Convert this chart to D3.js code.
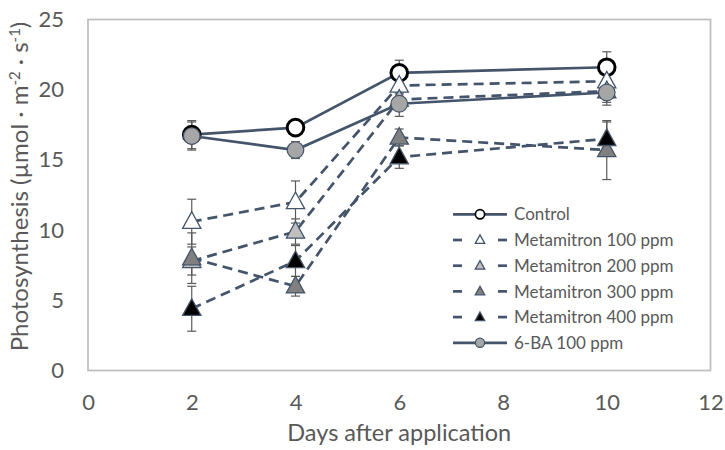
<!DOCTYPE html>
<html>
<head>
<meta charset="utf-8">
<script src="https://cdn.jsdelivr.net/npm/d3@7"></script>
<style>
  body { margin: 0; background: #fff; }
  text { font-family: Lato, 'Open Sans', sans-serif; fill: #595959; }
</style>
</head>
<body>
<div class="chart"></div>
<script>
const days = [2, 4, 6, 10]
const seriesNames = ['Control', 'Metamitron 100 ppm', 'Metamitron 200 ppm', 'Metamitron 300 ppm', 'Metamitron 400 ppm', '6-BA 100 ppm']
const control = [16.8, 17.3, 21.2, 21.6]
const meta100 = [10.6, 12.0, 20.3, 20.6]
const meta200 = [7.8, 9.9, 19.3, 19.9]
const meta300 = [8.0, 6.0, 16.6, 15.7]
const meta400 = [4.4, 7.8, 15.2, 16.5]
const ba100 = [16.7, 15.7, 19.0, 19.8]
const controlErr = [1.0, 0.3, 0.9, 1.1]
const meta100Err = [1.6, 1.5, 0.6, 0.5]
const meta200Err = [1.0, 0.9, 0.5, 0.8]
const meta300Err = [1.8, 0.7, 0.6, 2.1]
const meta400Err = [1.6, 1.1, 0.8, 1.2]
const ba100Err = [1.0, 0.6, 0.9, 0.9]
const xTicks = [0, 2, 4, 6, 8, 10, 12]
const yTicks = [0, 5, 10, 15, 20, 25]

const lineColor = '#44546a'
const series = [
  { name: seriesNames[0], values: control, err: controlErr, shape: 'circle', fill: '#fff', stroke: '#000', dashed: false },
  { name: seriesNames[1], values: meta100, err: meta100Err, shape: 'tri', fill: '#fff', stroke: lineColor, dashed: true },
  { name: seriesNames[2], values: meta200, err: meta200Err, shape: 'tri', fill: '#bfbfbf', stroke: lineColor, dashed: true },
  { name: seriesNames[3], values: meta300, err: meta300Err, shape: 'tri', fill: '#808080', stroke: lineColor, dashed: true },
  { name: seriesNames[4], values: meta400, err: meta400Err, shape: 'tri', fill: '#000', stroke: lineColor, dashed: true },
  { name: seriesNames[5], values: ba100, err: ba100Err, shape: 'circle', fill: '#a6a6a6', stroke: lineColor, dashed: false }
]

const margin = { top: 19.5, right: 14.5, bottom: 79.5, left: 88 }
const width = 725 - margin.left - margin.right
const height = 450 - margin.top - margin.bottom

const svg = d3.select('.chart').append('svg').attr('width', 725).attr('height', 450)
const g = svg.append('g').attr('transform', `translate(${margin.left}, ${margin.top})`)

const x = d3.scaleLinear().domain([0, 12]).range([0, width])
const y = d3.scaleLinear().domain([0, 25]).range([height, 0])

// plot frame
g.append('rect').attr('width', width).attr('height', height)
  .attr('fill', 'none').attr('stroke', '#c0c0c0').attr('stroke-width', 1.8)

// tick labels
const xAxis = d3.axisBottom(x).tickValues(xTicks).tickSize(0).tickPadding(24)
g.append('g').attr('transform', `translate(0, ${height})`).call(xAxis)
  .call(a => a.select('.domain').remove())
  .selectAll('text').style('font-size', '22px').attr('fill', '#595959')

const yAxis = d3.axisLeft(y).tickValues(yTicks).tickSize(0).tickPadding(24)
g.append('g').call(yAxis)
  .call(a => a.select('.domain').remove())
  .selectAll('text').style('font-size', '22px').attr('fill', '#595959')

// axis titles
svg.append('text').attr('x', margin.left + width / 2).attr('y', 441)
  .attr('text-anchor', 'middle').style('font-size', '23.5px').text('Days after application')

const yt = svg.append('text').attr('transform', 'translate(28, 186.5) rotate(-90)')
  .attr('text-anchor', 'middle').style('font-size', '24px')
yt.append('tspan').text('Photosynthesis (µmol · m')
yt.append('tspan').attr('dy', -8).style('font-size', '15px').text('-2')
yt.append('tspan').attr('dy', 8).text(' · s')
yt.append('tspan').attr('dy', -8).style('font-size', '15px').text('-1')
yt.append('tspan').attr('dy', 8).text(')')

function drawMarker(sel, s, cx, cy, size) {
  if (s.shape === 'circle') {
    sel.append('circle').attr('cx', cx).attr('cy', cy).attr('r', size)
      .attr('fill', s.fill).attr('stroke', s.stroke)
      .attr('stroke-width', s.name === 'Control' ? size * 0.36 : 1.2)
  } else {
    const h = size * 2
    const w = size * 1.1
    sel.append('path')
      .attr('d', `M${cx},${cy - h * 0.6}L${cx + w},${cy + h * 0.4}L${cx - w},${cy + h * 0.4}Z`)
      .attr('fill', s.fill).attr('stroke', s.stroke).attr('stroke-width', 1.3)
  }
}

// error bars
const eb = g.append('g').attr('stroke', '#595959').attr('stroke-width', 1.2)
series.forEach(s => {
  days.forEach((d, i) => {
    const cx = x(d)
    const y0 = y(s.values[i] - s.err[i])
    const y1 = y(s.values[i] + s.err[i])
    eb.append('line').attr('x1', cx).attr('x2', cx).attr('y1', y0).attr('y2', y1)
    eb.append('line').attr('x1', cx - 4.5).attr('x2', cx + 4.5).attr('y1', y0).attr('y2', y0)
    eb.append('line').attr('x1', cx - 4.5).attr('x2', cx + 4.5).attr('y1', y1).attr('y2', y1)
  })
})

const line = d3.line().x(d => x(d[0])).y(d => y(d[1]))

series.forEach(s => {
  const pts = days.map((d, i) => [d, s.values[i]])
  g.append('path').datum(pts).attr('d', line)
    .attr('fill', 'none').attr('stroke', lineColor).attr('stroke-width', 2.7)
    .attr('stroke-dasharray', s.dashed ? '10,6' : null)
  const mg = g.append('g')
  pts.forEach(p => drawMarker(mg, s, x(p[0]), y(p[1]), 8.3))
})

// legend
const legend = svg.append('g').attr('transform', 'translate(453, 214.3)')
series.forEach((s, i) => {
  const row = legend.append('g').attr('transform', `translate(0, ${i * 25.7})`)
  if (s.dashed) {
    row.append('line').attr('x1', 0).attr('x2', 9).attr('stroke', lineColor).attr('stroke-width', 2.7)
    row.append('line').attr('x1', 45).attr('x2', 54).attr('stroke', lineColor).attr('stroke-width', 2.7)
    drawMarker(row, s, 27, 0, 4.3)
  } else {
    row.append('line').attr('x1', 0).attr('x2', 54).attr('stroke', lineColor).attr('stroke-width', 2.7)
    drawMarker(row, s, 27, 0, 4.6)
  }
  row.append('text').attr('x', 61).attr('y', 0).attr('dy', '0.36em')
    .style('font-size', '17px').text(s.name)
})
</script>
</body>
</html>
